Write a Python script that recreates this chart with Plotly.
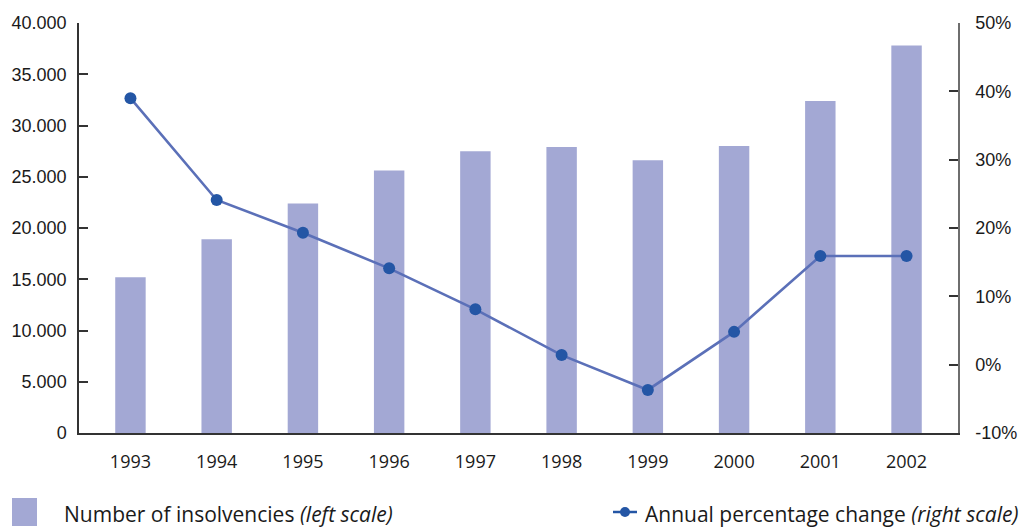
import plotly.graph_objects as go

years = ["1993", "1994", "1995", "1996", "1997", "1998", "1999", "2000", "2001", "2002"]
insolvencies = [15200, 18900, 22400, 25600, 27500, 27900, 26600, 28000, 32400, 37800]
pct_change = [39.0, 24.1, 19.3, 14.1, 8.1, 1.4, -3.7, 4.8, 15.9, 15.9]
left_ticks = [0, 5000, 10000, 15000, 20000, 25000, 30000, 35000, 40000]
right_ticks = [-10, 0, 10, 20, 30, 40, 50]
right_labels = ["-10%", "0%", "10%", "20%", "30%", "40%", "50%"]

bar_color = "#a3a8d4"
line_color = "#5b70b8"
marker_color = "#2456a5"
axis_color = "#333333"
right_axis_color = "#6e6e6e"
tick_font = dict(family="Liberation Sans, Arial, sans-serif", size=18, color="#1a1a1a")

L, R, T, B = 79, 958, 23, 433  # plot area in window pixels
W, H = 1024, 529


def px(x):
    return (x - L) / (R - L)


def py(y):
    return (B - y) / (B - T)


fig = go.Figure()
fig.add_trace(go.Bar(x=years, y=insolvencies, marker_color=bar_color, width=0.353,
                     name="Number of insolvencies", yaxis="y"))
fig.add_trace(go.Scatter(x=years, y=pct_change, mode="lines+markers", yaxis="y2",
                         line=dict(color=line_color, width=2.6),
                         marker=dict(color=marker_color, size=12),
                         name="Annual percentage change"))

fig.update_layout(
    template="none",
    width=W, height=H,
    margin=dict(l=L, r=W - R, t=T, b=H - B, pad=0, autoexpand=False),
    paper_bgcolor="white", plot_bgcolor="white",
    showlegend=False,
    separators=",.",
    xaxis=dict(type="category", showline=True, linecolor=axis_color, linewidth=1.5, ticks="",
               showgrid=False, automargin=False,
               tickfont=dict(family="Open Sans, sans-serif", size=18, color="#1a1a1a"),
               ticklabelstandoff=12),
    yaxis=dict(range=[0, 40000], tickvals=left_ticks, tickformat=",d",
               showline=True, linecolor=axis_color, linewidth=1.5, automargin=False,
               ticks="inside", ticklen=9, tickcolor=axis_color, tickwidth=1.5,
               showgrid=False, zeroline=False, tickfont=tick_font, ticklabelstandoff=7),
    yaxis2=dict(range=[-10, 50], tickmode="array", tickvals=right_ticks, ticktext=right_labels,
                overlaying="y", side="right", anchor="x", automargin=False,
                showline=True, linecolor=right_axis_color, linewidth=1.5,
                ticks="inside", ticklen=9, tickcolor=axis_color, tickwidth=1.5,
                showgrid=False, zeroline=False, tickfont=tick_font, ticklabelstandoff=12),
)

legend_font = dict(family="Open Sans, sans-serif", size=21, color="#1a1a1a")
# Legend (drawn manually to match the reference layout)
fig.add_shape(type="rect", xref="paper", yref="paper",
              x0=px(12), x1=px(37), y0=py(498), y1=py(526),
              fillcolor=bar_color, line=dict(width=0))
fig.add_annotation(xref="paper", yref="paper", x=px(62), y=py(514),
                   xanchor="left", yanchor="middle", showarrow=False,
                   text="Number of insolvencies <i>(left scale)</i>", font=legend_font)
fig.add_shape(type="line", xref="paper", yref="paper",
              x0=px(613), x1=px(637), y0=py(512), y1=py(512),
              line=dict(color=marker_color, width=2.5))
fig.add_shape(type="circle", xref="paper", yref="paper",
              x0=px(620), x1=px(630), y0=py(507), y1=py(517),
              fillcolor=marker_color, line=dict(width=0))
fig.add_annotation(xref="paper", yref="paper", x=px(643), y=py(514),
                   xanchor="left", yanchor="middle", showarrow=False,
                   text="Annual percentage change <i>(right scale)</i>", font=legend_font)

fig.write_html(
    "out.html",
    config={"displayModeBar": False},
    post_script="document.body.style.margin='0';document.body.style.overflow='hidden';",
)
